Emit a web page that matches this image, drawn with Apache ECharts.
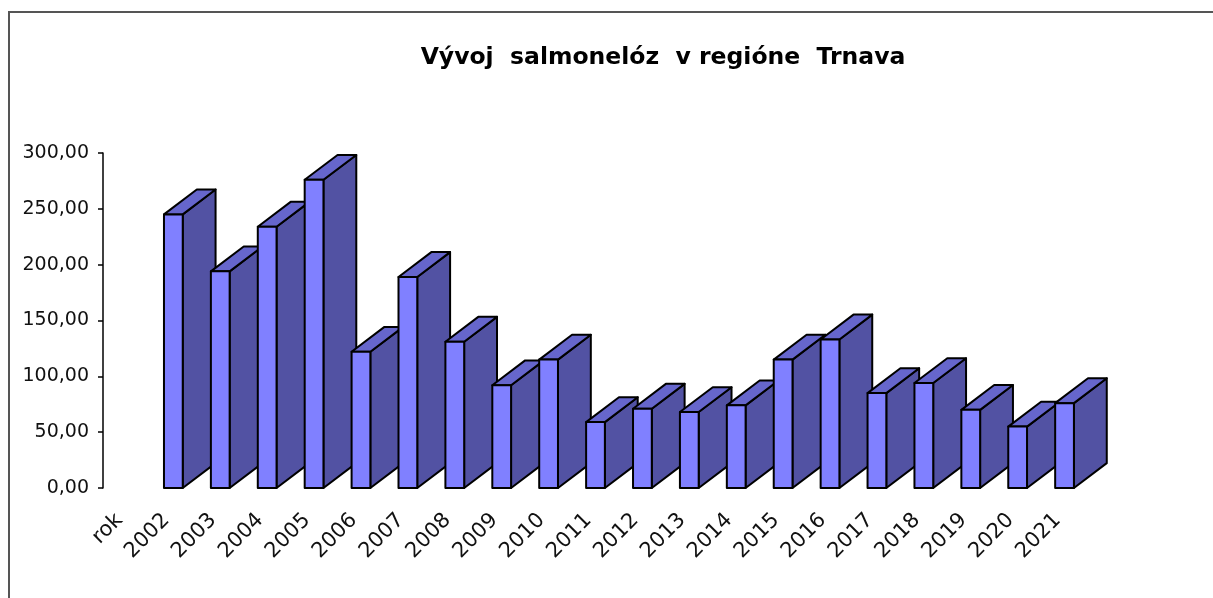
<html>
<head>
<meta charset="utf-8">
<script type="text/javascript" src="https://cdn.jsdelivr.net/npm/echarts@6/dist/echarts.min.js"></script>
<style>
  html, body { margin: 0; padding: 0; background: #fff; }
</style>
</head>
<body>
<div id="main" style="width: 1213px;height:598px;"></div>
<script type="text/javascript">
// kategórie (prvá "rok" je prázdna)
var roky = ['rok', '2002', '2003', '2004', '2005', '2006', '2007', '2008', '2009', '2010', '2011',
            '2012', '2013', '2014', '2015', '2016', '2017', '2018', '2019', '2020', '2021'];
// chorobnosť na salmonelózy
var hodnoty = [null, 245, 194, 234, 276, 122, 189, 131, 92, 115, 59,
               71, 68, 74, 115, 133, 85, 94, 70, 55, 76];
var yTicks = [0, 50, 100, 150, 200, 250, 300];

var data = [];
for (var i = 0; i < hodnoty.length; i++) {
    if (hodnoty[i] !== null) data.push([i, hodnoty[i]]);
}

var myChart = echarts.init(document.getElementById('main'));

// kvader - predná stena, bok a vrch
function renderBar(params, api) {
    var top = api.coord([api.value(0), api.value(1)]);
    var base = api.coord([api.value(0), 0]);
    var band = api.size([1, 0])[0];
    var w = band * 0.4, dx = band * 0.7, dy = band * 0.53;
    var l = top[0] - w / 2, r = top[0] + w / 2, t = top[1], b = base[1];
    var line = { stroke: '#000', lineWidth: 2, lineJoin: 'round' };
    return {
        type: 'group',
        children: [
            { type: 'polygon', shape: { points: [[r, b], [r + dx, b - dy], [r + dx, t - dy], [r, t]] },
              style: Object.assign({ fill: '#5252A3' }, line) },
            { type: 'polygon', shape: { points: [[l, t], [l + dx, t - dy], [r + dx, t - dy], [r, t]] },
              style: Object.assign({ fill: '#6666CC' }, line) },
            { type: 'rect', shape: { x: l, y: t, width: w, height: b - t },
              style: Object.assign({ fill: '#8080FF' }, line) }
        ]
    };
}

myChart.setOption({
    animation: false,
    backgroundColor: '#fff',
    textStyle: { fontFamily: 'DejaVu Sans' },
    title: {
        text: 'Vývoj  salmonelóz  v regióne  Trnava',
        left: 658,
        top: 41,
        textAlign: 'center',
        textStyle: { fontFamily: 'DejaVu Sans', fontWeight: 'bold', fontSize: 23.5, color: '#000' }
    },
    graphic: [{
        type: 'rect',
        shape: { x: 9, y: 12, width: 1400, height: 800 },
        style: { fill: 'none', stroke: '#555', lineWidth: 2 },
        silent: true
    }],
    grid: { left: 103, top: 153, width: 985, height: 335 },
    xAxis: {
        type: 'category',
        data: roky,
        axisLine: { show: false },
        axisTick: { show: false },
        axisLabel: { rotate: 45, margin: 22, fontSize: 21, color: '#111', interval: 0,
                     fontFamily: 'DejaVu Sans', padding: [0, 10, 0, 0] }
    },
    yAxis: {
        type: 'value',
        min: yTicks[0],
        max: yTicks[yTicks.length - 1],
        interval: 50,
        axisLine: { show: true, lineStyle: { color: '#000', width: 1.5 } },
        axisTick: { show: true, length: 5, lineStyle: { color: '#000', width: 1.5 } },
        splitLine: { show: false },
        axisLabel: {
            margin: 14, fontSize: 19, color: '#111', fontFamily: 'DejaVu Sans',
            formatter: function (v) { return v.toFixed(2).replace('.', ','); }
        }
    },
    series: [{
        type: 'custom',
        renderItem: renderBar,
        data: data
    }]
});
</script>
</body>
</html>
